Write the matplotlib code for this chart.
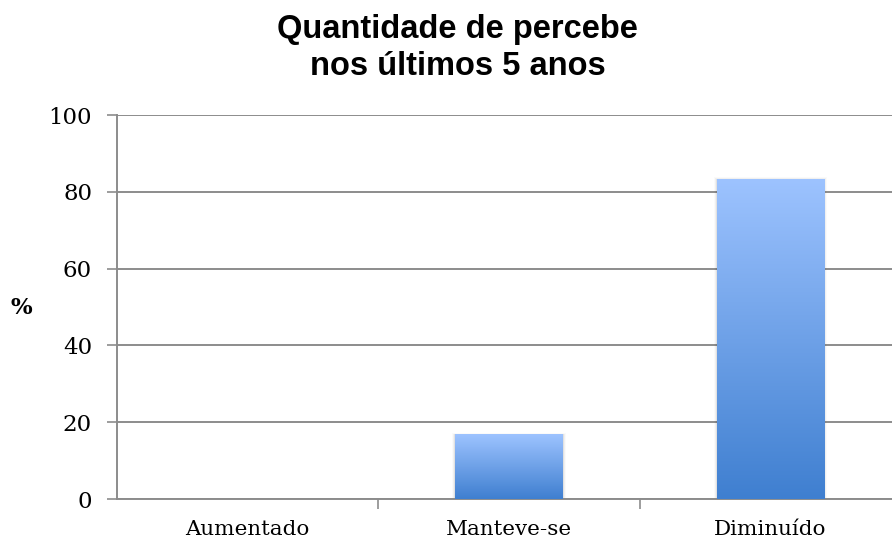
import numpy as np
import matplotlib
matplotlib.use('Agg')
import matplotlib.pyplot as plt
from matplotlib.colors import LinearSegmentedColormap

categories = ['Aumentado', 'Manteve-se', 'Diminuído']
values = [0.0, 16.7, 83.3]
y_ticks = [0, 20, 40, 60, 80, 100]

fig = plt.figure(figsize=(8.92, 5.42), dpi=100)
ax = fig.add_axes([0.1312, 0.0793, 0.8789, 0.7085])

# gradient: light blue on top, darker at the bottom
cmap = LinearSegmentedColormap.from_list('grad', ['#3f7fd0', '#9dc3ff'])
grad = np.linspace(0, 1, 256).reshape(-1, 1)

x = np.arange(len(categories))
width = 0.41

for xi, v in zip(x, values):
    if v <= 0:
        continue
    # soft shadow
    for k, a in enumerate([0.06, 0.04, 0.02]):
        d = 0.004 * (k + 1)
        ax.add_patch(plt.Rectangle((xi - width / 2 - d, 0), width + 2 * d, v + d * 40,
                                   color='black', alpha=a, lw=0, zorder=2))
    ax.imshow(grad, cmap=cmap, origin='lower', aspect='auto',
              extent=(xi - width / 2, xi + width / 2, 0, v), zorder=3)

ax.set_xlim(-0.5, len(categories) - 0.5)
ax.set_ylim(0, 100)

ax.set_yticks(y_ticks)
ax.set_yticklabels([str(t) for t in y_ticks], family='DejaVu Serif', fontsize=16.5)
ax.yaxis.grid(True, color='#8c8c8c', linewidth=1.4, zorder=1)
ax.set_axisbelow(True)

ax.set_xticks(x)
ax.set_xticklabels(categories, family='DejaVu Serif', fontsize=15.4)
ax.set_xticks(np.arange(0.5, len(categories) - 0.5, 1), minor=True)
ax.tick_params(axis='x', which='major', length=0, pad=15)
ax.tick_params(axis='x', which='minor', length=7, color='#8c8c8c', width=1.2)
ax.tick_params(axis='y', length=7, color='#8c8c8c', width=1.2, pad=11)

for s in ['top', 'right']:
    ax.spines[s].set_visible(False)
ax.spines['left'].set_color('#8c8c8c')
ax.spines['left'].set_linewidth(1.4)
ax.spines['bottom'].set_color('#8c8c8c')
ax.spines['bottom'].set_linewidth(1.4)

fig.text(0.012, 0.431, '%', family='DejaVu Serif', fontweight='bold', fontsize=16.5,
         ha='left', va='center')

fig.suptitle('Quantidade de percebe\nnos últimos 5 anos', x=0.513, y=0.975,
             family='Liberation Sans', fontweight='bold', fontsize=23.5,
             linespacing=1.25, va='top')

fig.savefig('out.png', dpi=100)
